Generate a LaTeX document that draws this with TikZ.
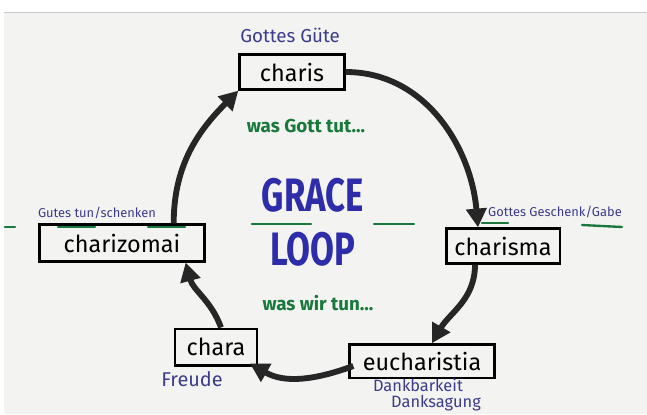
\documentclass[tikz,border=0pt]{standalone}
\usepackage{fontspec}
\setmainfont{Fira Sans}
\usetikzlibrary{positioning,calc}
\usetikzlibrary{arrows.meta}
\definecolor{stiftblau}{RGB}{45,45,170}
\definecolor{notizblau}{RGB}{60,60,140}
\definecolor{stiftgruen}{RGB}{25,120,60}
\definecolor{tafel}{RGB}{243,243,241}
\tikzstyle{wort} = [rectangle, draw=black, line width=2pt, minimum height=1.05cm,
text centered, font=\fontsize{20}{22}\selectfont, inner sep=2pt]
\tikzstyle{notiz} = [text=notizblau, font=\fontsize{14}{15}\selectfont, inner sep=0pt]
\tikzstyle{gruen} = [text=stiftgruen, font=\bfseries\fontsize{16}{17}\selectfont]
\tikzstyle{gross} = [text=stiftblau, font=\bfseries\fontsize{40}{40}\selectfont, inner sep=0pt]
\tikzstyle{pfeil} = [line width=5pt, black!85, -{Triangle[length=16pt,width=17pt]}]
\tikzstyle{strich} = [stiftgruen, line width=2pt, line cap=round]

\begin{document}
\begin{tikzpicture}[x=0.03cm,y=-0.03cm]
						\useasboundingbox (0,0) rectangle (647,414);
						\fill[white] (0,0) rectangle (647,414);
						\fill[tafel] (4,12) rectangle (647,414);
						\draw[gray!40] (4,12) -- (647,12);
						% begriffe
						\node (charis) at (292,72) [wort, minimum width=3.15cm] {charis};
						\node (charisma) at (503,246) [wort, minimum width=3.4cm] {charisma};
						\node (eucharistia) at (422,361) [wort, minimum width=4.35cm, minimum height=1cm] {eucharistia};
						\node (chara) at (216,347) [wort, minimum width=2.45cm, minimum height=1.1cm] {chara};
						\node (charizomai) at (122,243) [wort, minimum width=4.95cm, minimum height=1.1cm] {charizomai};
						% uebersetzungen
						\node (guete) at (290,35) [notiz, font=\fontsize{16}{17}\selectfont] {Gottes Güte};
						\node (geschenk) at (555,212) [notiz, font=\fontsize{11}{12}\selectfont] {Gottes Geschenk/Gabe};
						\node (dankbarkeit) at (418,385) [notiz] {Dankbarkeit};
						\node (danksagung) at (436,403) [notiz] {Danksagung};
						\node (freude) at (192,379) [notiz, font=\fontsize{17}{18}\selectfont] {Freude};
						\node (gutes) at (97,213) [notiz, font=\fontsize{11}{12}\selectfont] {Gutes tun/schenken};
						% mitte
						\node (gott) at (306,126) [gruen] {was Gott tut...};
						\node (grace) at (313,195) [gross] {\scalebox{0.74}[1]{GRACE}};
						\node (loop) at (313,249) [gross] {\scalebox{0.74}[1]{LOOP}};
						\node (wir) at (318,303) [gruen] {was wir tun...};
						% gruene striche
						\draw[strich] (5,227) -- (15,227);
						\draw[strich] (58,227) -- (95,227);
						\draw[strich] (148,227) -- (185,227);
						\draw[strich] (252,224) -- (311,224);
						\draw[strich] (374,224) -- (414,224);
						\draw[strich] (482,223) -- (508,223);
						\draw[strich] (582,225) -- (622,227);
						% kreislauf
						\draw[pfeil] (charis.east) to[out=0,in=95] ($(charisma.north)+(-25,0)$);
						\draw[pfeil] ($(charisma.south)+(-28,0)$) to[out=-90,in=60] ($(eucharistia.north)+(10,0)$);
						\draw[pfeil] ($(eucharistia.west)+(5,5)$) to[out=200,in=-30] ($(chara.south east)+(-8,-3)$);
						\draw[pfeil] ($(chara.north)+(5,0)$) to[out=110,in=-75] ($(charizomai.south east)+(-20,0)$);
						\draw[pfeil] ($(charizomai.north east)+(-32,0)$) to[out=90,in=-135] (charis.south west);
					\end{tikzpicture}
\end{document}
